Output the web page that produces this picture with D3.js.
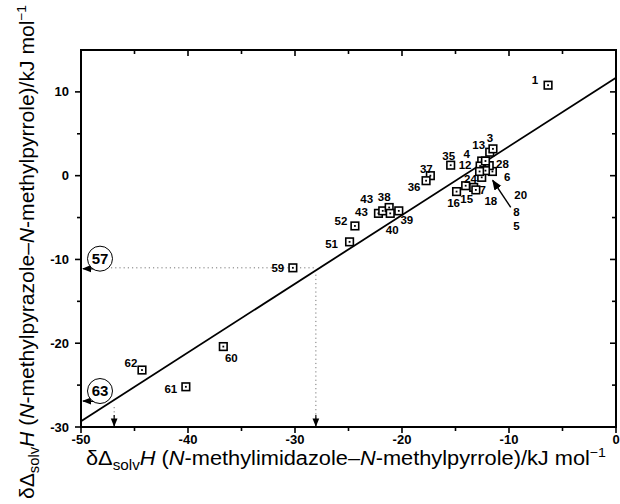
<!DOCTYPE html>
<html>
<head>
<meta charset="utf-8">
<script src="https://cdn.jsdelivr.net/npm/d3@7"></script>
<style>
  body { margin: 0; background: #fff; }
  svg { display: block; font-family: 'Liberation Sans', Arial, sans-serif; }
  .tick-label { font-size: 13px; font-weight: bold; }
  .pt-label { font-size: 11.5px; font-weight: bold; }
  .title { font-size: 20px; }
</style>
</head>
<body>
<div id="chart"></div>
<script>
// compound numbers and their values (kJ/mol)
const ids = ['1', '13', '3', '4', '12', '28', '6', '20', '8', '5', '24', '7', '18', '15', '16',
  '35', '37', '36', '43', '43', '38', '40', '39', '52', '51', '59', '60', '62', '61']
const xValues = [-6.35, -11.8, -11.5, -12.55, -12.7, -11.55, -11.85, -12.55, -12.2, -12.75, -12.2, -13.3, -13.1, -14.05, -14.9,
  -15.45, -17.35, -17.75, -22.2, -21.8, -21.2, -21.1, -20.3, -24.4, -24.9, -30.2, -36.7, -44.3, -40.2]
const yValues = [10.8, 2.8, 3.2, 1.75, 1.15, 0.5, 1.2, -0.2, 0.6, 0.5, 1.75, -1.4, -1.7, -1.2, -1.9,
  1.25, 0.0, -0.6, -4.5, -4.2, -3.8, -4.5, -4.2, -6.0, -7.9, -11.0, -20.4, -23.2, -25.2]

// where each number sits relative to its square (px)
const labelOffsets = [[-13, -5], [-11, -7], [-3, -11], [-15, -7], [-15, -1], [10, -8], [18, 11], [39, 18], [31, 41], [37, 54], [-15, 18], [9, 2], [15, 11], [1, 13], [-3, 11],
  [-2, -9], [-4, -7], [-12, 6], [-17, -2], [-16, -12], [-5, -11], [2, 16], [8, 9], [-14, -5], [-18, 2], [-15, 0], [8, 11], [-11, -7], [-15, 2]]

// fitted line end points
const fitLine = [[-50, -29.3], [0, 11.7]]

// predicted compounds
const predicted = [
  { id: '57', x: -28.05, y: -11.1 },
  { id: '63', x: -46.9, y: -26.9 }
]

const xTicks = [-50, -40, -30, -20, -10, 0]
const xMinor = [-45, -35, -25, -15, -5]
const yTicks = [-30, -20, -10, 0, 10]
const yMinor = [-25, -15, -5, 5]

const margin = { top: 50, right: 4, bottom: 77, left: 81 }
const width = 620 - margin.left - margin.right
const height = 504 - margin.top - margin.bottom

const svg = d3
  .select('#chart')
  .append('svg')
  .attr('width', 620)
  .attr('height', 504)

const g = svg.append('g')
  .attr('transform', `translate(${margin.left}, ${margin.top})`)

const xPositionScale = d3.scaleLinear().domain([-50, 0]).range([0, width])
const yPositionScale = d3.scaleLinear().domain([-30, 15]).range([height, 0])

svg.append('defs')
  .append('marker')
  .attr('id', 'head')
  .attr('viewBox', '0 0 10 10')
  .attr('refX', 9)
  .attr('refY', 5)
  .attr('markerWidth', 7)
  .attr('markerHeight', 7)
  .attr('orient', 'auto')
  .append('path')
  .attr('d', 'M0,1 L10,5 L0,9 Z')
  .attr('fill', '#000')

// frame
g.append('rect')
  .attr('width', width)
  .attr('height', height)
  .attr('fill', 'none')
  .attr('stroke', '#000')
  .attr('stroke-width', 2)

// ticks: outward on bottom/left, inward on top/right
function tickLines(values, len) {
  values.forEach(v => {
    const x = xPositionScale(v)
    g.append('line').attr('x1', x).attr('x2', x).attr('y1', height).attr('y2', height + len)
    g.append('line').attr('x1', x).attr('x2', x).attr('y1', 0).attr('y2', len)
  })
}
function yTickLines(values, len) {
  values.forEach(v => {
    const y = yPositionScale(v)
    g.append('line').attr('x1', 0).attr('x2', -len).attr('y1', y).attr('y2', y)
    g.append('line').attr('x1', width).attr('x2', width - len).attr('y1', y).attr('y2', y)
  })
}
tickLines(xTicks, 6)
tickLines(xMinor, 4)
yTickLines(yTicks, 6)
yTickLines(yMinor, 4)
g.selectAll('line').attr('stroke', '#000').attr('stroke-width', 1.6)

g.selectAll('.x-label')
  .data(xTicks)
  .enter()
  .append('text')
  .attr('class', 'tick-label')
  .attr('x', d => xPositionScale(d))
  .attr('y', height + 17)
  .attr('text-anchor', 'middle')
  .text(d => d)

g.selectAll('.y-label')
  .data(yTicks)
  .enter()
  .append('text')
  .attr('class', 'tick-label')
  .attr('x', -12)
  .attr('y', d => yPositionScale(d))
  .attr('dy', '0.35em')
  .attr('text-anchor', 'end')
  .text(d => d)

// fitted line
g.append('line')
  .attr('x1', xPositionScale(fitLine[0][0]))
  .attr('y1', yPositionScale(fitLine[0][1]))
  .attr('x2', xPositionScale(fitLine[1][0]))
  .attr('y2', yPositionScale(fitLine[1][1]))
  .attr('stroke', '#000')
  .attr('stroke-width', 1.8)

// dotted read-off lines
const p57 = predicted[0]
g.append('line')
  .attr('x1', xPositionScale(-50) + 30)
  .attr('x2', xPositionScale(p57.x))
  .attr('y1', yPositionScale(-11.0))
  .attr('y2', yPositionScale(-11.0))
  .attr('stroke', '#777')
  .attr('stroke-dasharray', '1.2,3')

predicted.forEach(p => {
  g.append('line')
    .attr('x1', xPositionScale(p.x))
    .attr('x2', xPositionScale(p.x))
    .attr('y1', yPositionScale(p.y) + 6)
    .attr('y2', height - 1)
    .attr('stroke', '#777')
    .attr('stroke-dasharray', '1.2,3')
  g.append('line')
    .attr('x1', xPositionScale(p.x))
    .attr('x2', xPositionScale(p.x))
    .attr('y1', height - 12)
    .attr('y2', height - 1)
    .attr('stroke', '#000')
    .attr('stroke-width', 1.2)
    .attr('marker-end', 'url(#head)')

  // circled number with arrow to the y axis
  const cx = xPositionScale(-50) + 19
  const cy = yPositionScale(p.y) - 10
  g.append('path')
    .attr('d', `M${cx - 2},${cy + 11} Q${cx - 6},${cy + 10} ${xPositionScale(-50) + 2},${yPositionScale(p.y)}`)
    .attr('fill', 'none')
    .attr('stroke', '#000')
    .attr('stroke-width', 1.3)
    .attr('marker-end', 'url(#head)')
  g.append('circle')
    .attr('cx', cx)
    .attr('cy', cy)
    .attr('r', 12.5)
    .attr('fill', '#fff')
    .attr('stroke', '#000')
    .attr('stroke-width', 1)
  g.append('text')
    .attr('class', 'tick-label')
    .attr('x', cx)
    .attr('y', cy)
    .attr('dy', '0.36em')
    .attr('text-anchor', 'middle')
    .style('font-size', '15px')
    .text(p.id)
})

// points
const points = ids.map((id, i) => ({ id: id, x: xValues[i], y: yValues[i], off: labelOffsets[i] }))

const marks = g.selectAll('.pt')
  .data(points)
  .enter()
  .append('g')
  .attr('class', 'pt')
  .attr('transform', d => `translate(${xPositionScale(d.x)}, ${yPositionScale(d.y)})`)

marks.append('rect')
  .attr('x', -3.8)
  .attr('y', -3.8)
  .attr('width', 7.6)
  .attr('height', 7.6)
  .attr('fill', '#fff')
  .attr('stroke', '#000')
  .attr('stroke-width', 1.6)

marks.append('rect')
  .attr('x', -0.9)
  .attr('y', -0.9)
  .attr('width', 1.8)
  .attr('height', 1.8)
  .attr('fill', '#000')

g.selectAll('.pt-label')
  .data(points)
  .enter()
  .append('text')
  .attr('class', 'pt-label')
  .attr('x', d => xPositionScale(d.x) + d.off[0])
  .attr('y', d => yPositionScale(d.y) + d.off[1])
  .attr('dy', '0.36em')
  .attr('text-anchor', 'middle')
  .text(d => d.id)

// arrow from label 20 into the cluster
const p20 = points[7]
g.append('line')
  .attr('x1', xPositionScale(p20.x) + 29)
  .attr('y1', yPositionScale(p20.y) + 30)
  .attr('x2', xPositionScale(p20.x) + 11)
  .attr('y2', yPositionScale(p20.y) + 3)
  .attr('stroke', '#000')
  .attr('stroke-width', 1.5)
  .attr('marker-end', 'url(#head)')

// axis titles
function writeTitle(sel, middle) {
  sel.append('tspan').text('δΔ')
  sel.append('tspan').attr('dy', 5).style('font-size', '14px').text('solv')
  sel.append('tspan').attr('dy', -5).style('font-style', 'italic').text('H')
  sel.append('tspan').text(' (')
  sel.append('tspan').style('font-style', 'italic').text('N')
  sel.append('tspan').text(middle)
  sel.append('tspan').style('font-style', 'italic').text('N')
  sel.append('tspan').text('-methylpyrrole)/kJ mol')
  sel.append('tspan').attr('dy', -8).style('font-size', '13px').text('−1')
}

const xTitle = svg.append('text')
  .attr('class', 'title')
  .attr('x', 346)
  .attr('y', 465)
  .attr('text-anchor', 'middle')
  .attr('textLength', 520)
  .attr('lengthAdjust', 'spacingAndGlyphs')
writeTitle(xTitle, '-methylimidazole–')

const yTitle = svg.append('text')
  .attr('class', 'title')
  .attr('transform', 'translate(34, 252) rotate(-90)')
  .attr('text-anchor', 'middle')
  .attr('textLength', 494)
  .attr('lengthAdjust', 'spacingAndGlyphs')
writeTitle(yTitle, '-methylpyrazole–')
</script>
</body>
</html>
